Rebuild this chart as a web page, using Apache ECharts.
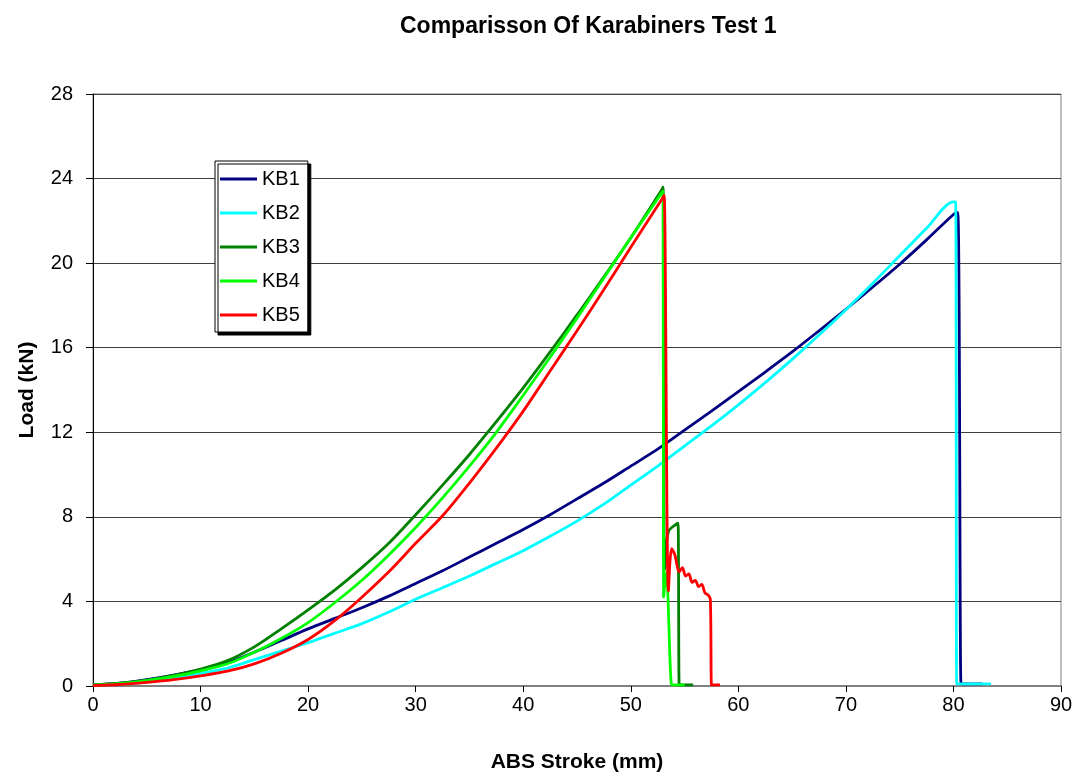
<!DOCTYPE html>
<html>
<head>
<meta charset="utf-8">
<title>Comparisson Of Karabiners Test 1</title>
<script src="https://cdn.jsdelivr.net/npm/echarts@6/dist/echarts.min.js"></script>
<style>
  html, body { margin: 0; padding: 0; background: #fff; }
  #chart { width: 1083px; height: 778px; }
</style>
</head>
<body>
<div id="chart"></div>
<script>
// 数据：ABS Stroke (mm) / Load (kN)，从图上读出的近似值
var kb1X = [0, 2.5, 5, 7.5, 10, 12.5, 15, 17.5, 20, 22.5, 25, 27.5, 30, 32.5, 35, 37.5, 40, 42.5, 45, 47.5, 50, 52.5, 55, 57.5, 60, 62.5, 65, 67.5, 70, 72.5, 75, 77.5, 80.0, 80.4, 80.7, 80.8, 82.7];
var kb1Y = [0.05, 0.13, 0.3, 0.52, 0.78, 1.1, 1.6, 2.15, 2.7, 3.2, 3.7, 4.25, 4.85, 5.45, 6.1, 6.75, 7.4, 8.1, 8.85, 9.6, 10.4, 11.2, 12.1, 13.0, 13.92, 14.85, 15.8, 16.8, 17.82, 18.87, 19.95, 21.1, 22.3, 22.4, 0.1, 0.1, 0.1];

var kb2X = [0, 2.5, 5, 7.5, 10, 12.5, 15, 17.5, 20, 22.5, 25, 27.5, 30, 32.5, 35, 37.5, 40, 42.5, 45, 47.5, 50, 52.5, 55, 57.5, 60, 62.5, 65, 67.5, 70, 72.5, 75, 77.5, 80.0, 80.2, 80.3, 80.4, 83.5];
var kb2Y = [0.03, 0.09, 0.2, 0.38, 0.6, 0.85, 1.25, 1.65, 2.05, 2.5, 2.95, 3.5, 4.1, 4.65, 5.2, 5.8, 6.4, 7.08, 7.8, 8.6, 9.5, 10.4, 11.35, 12.3, 13.3, 14.35, 15.45, 16.6, 17.8, 19.05, 20.35, 21.65, 22.9, 22.9, 0.1, 0.1, 0.1];

var kb3X = [0, 2.5, 5, 7.5, 10, 12.5, 15, 17.5, 20, 22.5, 25, 27.5, 30, 32.5, 35, 37.5, 40, 42.5, 45, 47.5, 50, 52.85, 53.0, 53.15, 53.5, 54.3, 54.4, 54.5, 54.6, 55.8];
var kb3Y = [0.05, 0.13, 0.28, 0.5, 0.8, 1.2, 1.85, 2.7, 3.6, 4.55, 5.6, 6.75, 8.1, 9.5, 10.95, 12.5, 14.1, 15.8, 17.55, 19.35, 21.2, 23.45, 23.6, 5.5, 7.3, 7.68, 7.7, 0.05, 0.05, 0.05];

var kb4X = [0, 2.5, 5, 7.5, 10, 12.5, 15, 17.5, 20, 22.5, 25, 27.5, 30, 32.5, 35, 37.5, 40, 42.5, 45, 47.5, 50, 52.85, 53.0, 53.05, 53.3, 53.8, 53.9, 55.0];
var kb4Y = [0.04, 0.11, 0.25, 0.45, 0.72, 1.05, 1.6, 2.25, 3.0, 3.95, 5.0, 6.2, 7.5, 8.9, 10.4, 12.0, 13.75, 15.55, 17.4, 19.3, 21.2, 23.3, 23.4, 4.2, 5.4, 0.05, 0.05, 0.05];

var kb5X = [0, 2.5, 5, 7.5, 10, 12.5, 15, 17.5, 20, 22.5, 25, 27.5, 30, 32.5, 35, 37.5, 40, 42.5, 45, 47.5, 50, 52.95, 53.1, 53.5, 53.8, 54.1, 54.5, 54.8, 55.1, 55.4, 55.7, 56.0, 56.3, 56.6, 56.9, 57.2, 57.4, 57.5, 57.6, 58.3];
var kb5Y = [0.02, 0.07, 0.17, 0.3, 0.48, 0.7, 1.05, 1.55, 2.2, 3.1, 4.2, 5.4, 6.75, 8.05, 9.6, 11.25, 13.0, 14.9, 16.8, 18.75, 20.75, 23.07, 23.2, 4.5, 6.5, 6.2, 5.4, 5.6, 5.2, 5.3, 4.9, 5.0, 4.7, 4.8, 4.4, 4.3, 4.1, 0.05, 0.05, 0.05];

var seriesNames = ['KB1', 'KB2', 'KB3', 'KB4', 'KB5'];
var seriesColors = ['#000080', '#00FFFF', '#008000', '#00FF00', '#FF0000'];
var xTicks = { min: 0, max: 90, step: 10 };
var yTicks = { min: 0, max: 28, step: 4 };

var fontName = 'Liberation Sans, Arial, sans-serif';

function zip(xs, ys) {
	var out = [];
	for (var i = 0; i < xs.length; i++) {
		out.push([xs[i], ys[i]]);
	}
	return out;
}

var allData = [zip(kb1X, kb1Y), zip(kb2X, kb2Y), zip(kb3X, kb3Y), zip(kb4X, kb4Y), zip(kb5X, kb5Y)];

var series = [];
for (var s = 0; s < seriesNames.length; s++) {
	series.push({
		name: seriesNames[s],
		type: 'line',
		data: allData[s],
		smooth: 0.3,
		showSymbol: false,
		symbol: 'none',
		animation: false,
		lineStyle: { color: seriesColors[s], width: 2.8 },
		itemStyle: { color: seriesColors[s] }
	});
}

var myChart = echarts.init(document.getElementById('chart'));
var option = {
	backgroundColor: '#ffffff',
	animation: false,
	title: {
		text: 'Comparisson Of Karabiners Test 1',
		left: 400,
		top: 15,
		padding: 0,
		textStyle: { fontFamily: fontName, fontSize: 23, fontWeight: 'bold', color: '#000' }
	},
	legend: {
		orient: 'vertical',
		left: 215,
		top: 161,
		padding: [8, 8, 7, 5],
		itemGap: 14,
		itemWidth: 37,
		itemHeight: 3,
		icon: 'rect',
		backgroundColor: '#fff',
		borderColor: '#000',
		borderWidth: 1,
		borderRadius: 0,
		shadowColor: '#000',
		shadowBlur: 0,
		shadowOffsetX: 3,
		shadowOffsetY: 3,
		textStyle: { fontFamily: fontName, fontSize: 20, color: '#000', lineHeight: 20 },
		data: seriesNames
	},
	grid: {
		left: 93,
		right: 22,
		top: 94,
		bottom: 90,
		show: true,
		backgroundColor: '#fff',
		borderColor: '#808080',
		borderWidth: 1
	},
	xAxis: {
		type: 'value',
		min: xTicks.min,
		max: xTicks.max,
		interval: xTicks.step,
		name: 'ABS Stroke (mm)',
		nameLocation: 'middle',
		nameGap: 66,
		nameTextStyle: { fontFamily: fontName, fontSize: 21, fontWeight: 'bold', color: '#000' },
		axisLine: { show: true, onZero: false, lineStyle: { color: '#808080', width: 2 } },
		axisTick: { show: true, inside: false, length: 6, lineStyle: { color: '#000' } },
		axisLabel: { margin: 9, fontFamily: fontName, fontSize: 20, color: '#000' },
		splitLine: { show: false }
	},
	yAxis: {
		type: 'value',
		min: yTicks.min,
		max: yTicks.max,
		interval: yTicks.step,
		name: 'Load (kN)',
		nameLocation: 'middle',
		nameGap: 55,
		nameTextStyle: { fontFamily: fontName, fontSize: 21, fontWeight: 'bold', color: '#000' },
		axisLine: { show: true, onZero: false, lineStyle: { color: '#000', width: 1 } },
		axisTick: { show: true, inside: false, length: 7, lineStyle: { color: '#000' } },
		axisLabel: { margin: 20, fontFamily: fontName, fontSize: 20, color: '#000' },
		splitLine: { show: true, lineStyle: { color: '#404040', width: 1 } }
	},
	series: series
};
myChart.setOption(option);
</script>
</body>
</html>
